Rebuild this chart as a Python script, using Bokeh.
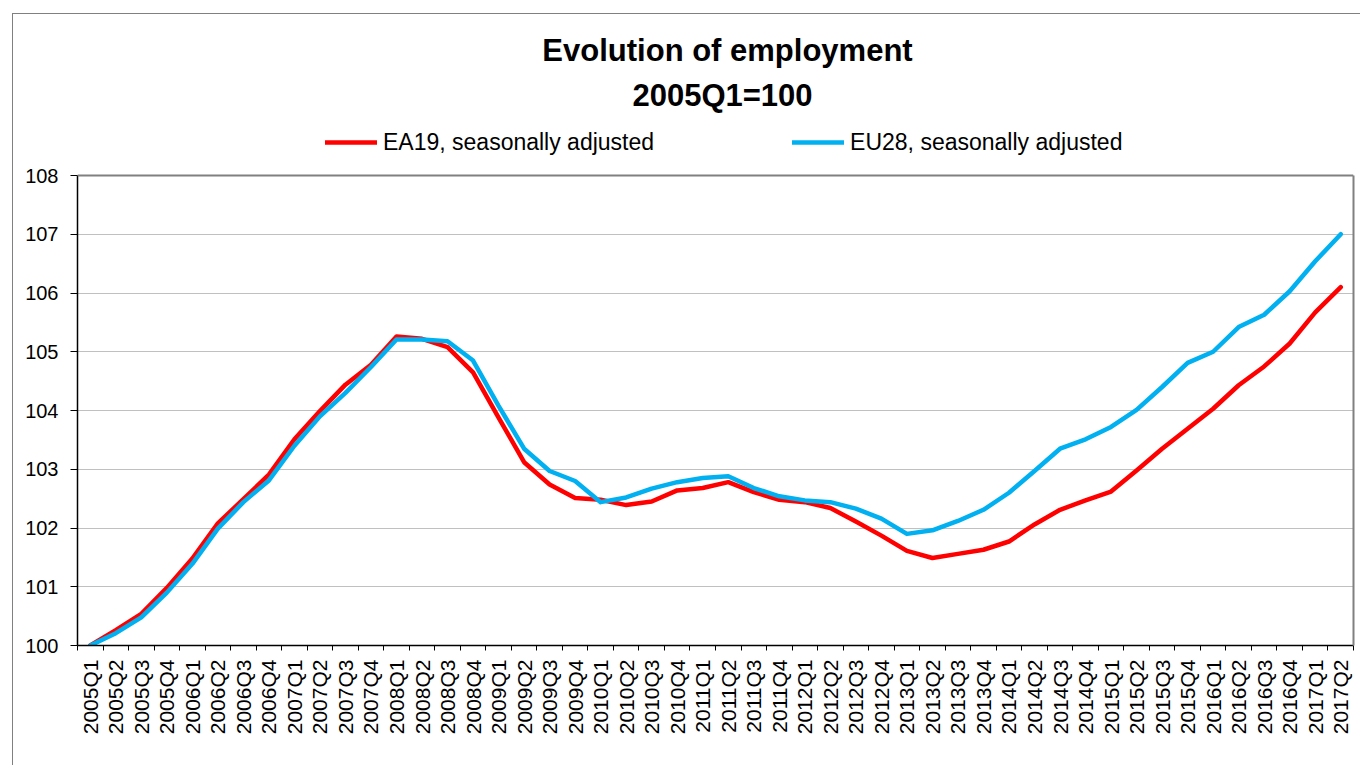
import math
from bokeh.plotting import figure
from bokeh.models import (Range1d, FixedTicker, Legend, LegendItem, Label, Span, LinearAxis)
from bokeh.embed import file_html
from bokeh.resources import INLINE

FONT = "Liberation Sans"

quarters = [
    "2005Q1", "2005Q2", "2005Q3", "2005Q4",
    "2006Q1", "2006Q2", "2006Q3", "2006Q4",
    "2007Q1", "2007Q2", "2007Q3", "2007Q4",
    "2008Q1", "2008Q2", "2008Q3", "2008Q4",
    "2009Q1", "2009Q2", "2009Q3", "2009Q4",
    "2010Q1", "2010Q2", "2010Q3", "2010Q4",
    "2011Q1", "2011Q2", "2011Q3", "2011Q4",
    "2012Q1", "2012Q2", "2012Q3", "2012Q4",
    "2013Q1", "2013Q2", "2013Q3", "2013Q4",
    "2014Q1", "2014Q2", "2014Q3", "2014Q4",
    "2015Q1", "2015Q2", "2015Q3", "2015Q4",
    "2016Q1", "2016Q2", "2016Q3", "2016Q4",
    "2017Q1", "2017Q2",
]

ea19 = [
    100.00, 100.26, 100.54, 100.98,
    101.48, 102.08, 102.49, 102.91,
    103.51, 103.99, 104.44, 104.78,
    105.26, 105.22, 105.08, 104.65,
    103.88, 103.12, 102.74, 102.51,
    102.48, 102.39, 102.45, 102.64,
    102.68, 102.78, 102.61, 102.48,
    102.44, 102.34, 102.11, 101.87,
    101.61, 101.49, 101.56, 101.63,
    101.77, 102.06, 102.31, 102.47,
    102.62, 102.98, 103.35, 103.69,
    104.03, 104.43, 104.75, 105.14,
    105.67, 106.10,
]

eu28 = [
    100.00, 100.21, 100.48, 100.90,
    101.39, 101.99, 102.44, 102.81,
    103.40, 103.90, 104.30, 104.74,
    105.21, 105.21, 105.18, 104.85,
    104.08, 103.35, 102.97, 102.80,
    102.44, 102.52, 102.67, 102.78,
    102.85, 102.88, 102.68, 102.54,
    102.47, 102.44, 102.33, 102.16,
    101.90, 101.96, 102.12, 102.31,
    102.60, 102.97, 103.35, 103.51,
    103.72, 104.01, 104.40, 104.81,
    105.00, 105.42, 105.63, 106.03,
    106.54, 107.00,
]

y_ticks = [100, 101, 102, 103, 104, 105, 106, 107, 108]

n = len(quarters)
xpos = [i + 0.5 for i in range(n)]
bounds = list(range(n + 1))

# layout (pixels): plot area 77..1353 x 175..645; the frame extends up to y=25
# so that the title and legend (annotations) are drawn inside it.
W, H = 1360, 765
F_LEFT, F_RIGHT, F_TOP, F_BOTTOM = 77, 1353, 25, 645
AREA_TOP = 175
px_per_unit = (F_BOTTOM - AREA_TOP) / (y_ticks[-1] - y_ticks[0])
y_end = y_ticks[-1] + (AREA_TOP - F_TOP) / px_per_unit

frame_css = {
    "background-image": "linear-gradient(#808080, #808080), linear-gradient(#808080, #808080)",
    "background-size": "1px 100%, 100% 1px",
    "background-position": "12px 13px, 12px 13px",
    "background-repeat": "no-repeat",
}

p = figure(
    width=W, height=H,
    x_range=Range1d(0, n), y_range=Range1d(y_ticks[0], y_end),
    output_backend="svg", toolbar_location=None,
    min_border_left=F_LEFT, min_border_right=W - F_RIGHT,
    min_border_top=F_TOP, min_border_bottom=H - F_BOTTOM,
    background_fill_color="white", border_fill_color=None,
    styles=frame_css,
)
p.title.text = ""
p.outline_line_color = None

# x axis: labels at category centres, tick marks at category boundaries
xa = p.xaxis[0]
xa.ticker = FixedTicker(ticks=xpos, minor_ticks=bounds)
xa.major_label_overrides = {xv: q for xv, q in zip(xpos, quarters)}
xa.major_tick_line_color = None
xa.major_tick_out = 5
xa.major_tick_in = 0
xa.minor_tick_out = 5
xa.minor_tick_in = 0
xa.minor_tick_line_color = "black"
xa.axis_line_color = "black"
xa.axis_line_width = 1.5
xa.major_label_orientation = math.pi / 2
xa.major_label_standoff = 9
xa.major_label_text_font = FONT
xa.major_label_text_font_size = "21px"
xa.major_label_text_color = "black"

ya = p.yaxis[0]
ya.ticker = FixedTicker(ticks=y_ticks)
ya.bounds = (y_ticks[0], y_ticks[-1])
ya.major_tick_out = 7
ya.major_tick_in = 0
ya.minor_tick_line_color = None
ya.major_tick_line_color = "black"
ya.axis_line_color = "black"
ya.axis_line_width = 1.5
ya.major_label_standoff = 12
ya.major_label_text_font = FONT
ya.major_label_text_font_size = "20px"
ya.major_label_text_color = "black"

# grey plot-area border on the top and right
right_border = LinearAxis(bounds=(y_ticks[0], y_ticks[-1]), ticker=FixedTicker(ticks=[]),
                          axis_line_color="#808080", axis_line_width=2,
                          major_tick_line_color=None, minor_tick_line_color=None,
                          major_label_text_font_size="0px")
p.add_layout(right_border, "right")
p.add_layout(Span(location=y_ticks[-1], dimension="width", line_color="#808080", line_width=2))

p.xgrid.visible = False
p.ygrid.ticker = FixedTicker(ticks=y_ticks)
p.ygrid.grid_line_color = "#c0c0c0"
p.ygrid.grid_line_width = 1

r_ea = p.line(xpos, ea19, line_color="#FF0000", line_width=4.5, line_join="round", line_cap="round")
r_eu = p.line(xpos, eu28, line_color="#00B0F0", line_width=4.5, line_join="round", line_cap="round")

# legend centred on y=142, first glyph starting at x=325
leg_h = 28
legend = Legend(
    items=[LegendItem(label="EA19, seasonally adjusted", renderers=[r_ea]),
           LegendItem(label="EU28, seasonally adjusted", renderers=[r_eu])],
    orientation="horizontal", location=(325 - F_LEFT, F_BOTTOM - (142 - leg_h / 2) - leg_h),
    glyph_width=52, glyph_height=leg_h, label_height=leg_h, label_standoff=6, spacing=138,
    padding=0, margin=0, border_line_color=None, background_fill_alpha=0,
    label_text_font=FONT, label_text_font_size="23px", label_text_color="black",
)
p.add_layout(legend)

t1 = Label(x=727 - F_LEFT, y=F_BOTTOM - 50, x_units="screen", y_units="screen",
           text="Evolution of employment", text_align="center", text_baseline="alphabetic",
           text_font=FONT, text_font_size="31px", text_font_style="bold", text_color="black")
t2 = Label(x=722 - F_LEFT, y=F_BOTTOM - 95, x_units="screen", y_units="screen",
           text="2005Q1=100", text_align="center", text_baseline="alphabetic",
           text_font=FONT, text_font_size="31px", text_font_style="bold", text_color="black")
p.add_layout(t1)
p.add_layout(t2)

open("out.html", "w").write(file_html(p, INLINE))
